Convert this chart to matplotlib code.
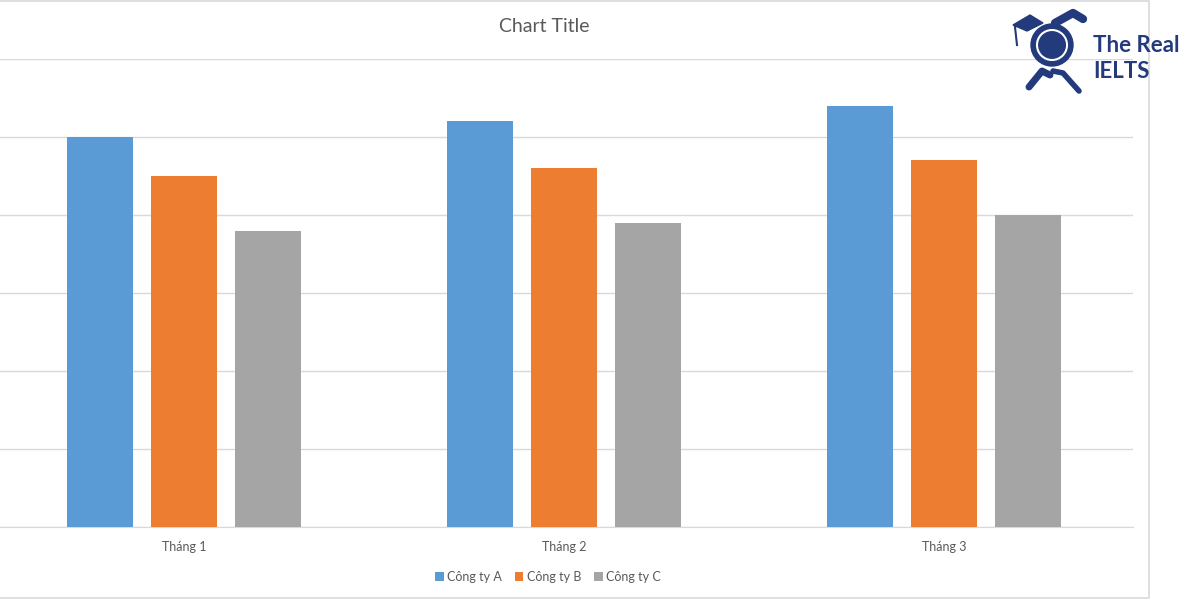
import numpy as np
import matplotlib.pyplot as plt
from matplotlib.patches import Rectangle, Circle

months = ["Tháng 1", "Tháng 2", "Tháng 3"]
cong_ty_a = [50, 52, 54]
cong_ty_b = [45, 46, 47]
cong_ty_c = [38, 39, 40]
series_names = ["Công ty A", "Công ty B", "Công ty C"]
colors = ["#5b9bd5", "#ed7d31", "#a5a5a5"]

plt.rcParams['font.family'] = ['Lato', 'DejaVu Sans']

fig = plt.figure(figsize=(12, 6), dpi=100)
W, H = 1200, 600

# chart frame
fig.patches.append(Rectangle((-2 / W, 1 - 598 / H), 1151 / W, 597 / H, transform=fig.transFigure,
                             fill=False, edgecolor="#d9d9d9", linewidth=1.2))

ax = fig.add_axes([0, 1 - 527 / H, 1133 / W, 468 / H])
x = np.arange(len(months))
width = 66 / 380
step = 84 / 380
for i, (vals, name, c) in enumerate(zip([cong_ty_a, cong_ty_b, cong_ty_c], series_names, colors)):
    ax.bar(x + (i - 1) * step, vals, width=width, color=c, label=name, zorder=3)

ax.set_xlim(-0.484, 2.497)
ax.set_ylim(0, 60)
ax.set_yticks(np.arange(0, 61, 10))
ax.yaxis.grid(True, color="#d9d9d9", linewidth=1, zorder=0)
ax.tick_params(axis="y", left=False, labelleft=False)
ax.tick_params(axis="x", length=0, labelsize=9, labelcolor="#595959", pad=10)
ax.set_xticks(x)
ax.set_xticklabels(months)
for s in ["top", "right", "left"]:
    ax.spines[s].set_visible(False)
ax.spines["bottom"].set_color("#d9d9d9")

fig.text(544 / W, 1 - 27 / H, "Chart Title", ha="center", va="center", fontsize=14, color="#595959")

leg = fig.legend(loc="center", bbox_to_anchor=(548 / W, 1 - 577 / H), ncol=3, frameon=False,
                 fontsize=9, handlelength=0.7, handleheight=0.7, handletextpad=0.3, columnspacing=1.0)
for t in leg.get_texts():
    t.set_color("#595959")

# logo
navy = "#233a7c"
fig.text(1093 / W, 1 - 45 / H, "The Real", ha="left", va="center", fontsize=16, color=navy, fontweight="bold")
fig.text(1093 / W, 1 - 71 / H, "IELTS", ha="left", va="center", fontsize=16, color=navy, fontweight="bold")
lax = fig.add_axes([1005 / W, 1 - 95 / H, 85 / W, 90 / H])
lax.set_xlim(0, 85)
lax.set_ylim(90, 0)
lax.set_aspect("equal")
lax.axis("off")
lax.add_patch(Circle((47, 40), 21, color=navy))
lax.add_patch(Circle((47, 40), 15, fill=False, edgecolor="white", linewidth=1.5))
lax.add_patch(Circle((48, 40), 12, color=navy))
lax.fill([8, 25, 38, 22], [20, 10, 18, 26], color=navy)
lax.plot([10, 12], [22, 40], color=navy, linewidth=1.5)
lax.plot([24, 37, 45], [82, 66, 70], color=navy, linewidth=5, solid_capstyle="round")
lax.plot([48, 58, 74], [66, 68, 86], color=navy, linewidth=4, solid_capstyle="round")
lax.plot([50, 68, 78], [18, 8, 14], color=navy, linewidth=6, solid_capstyle="round")

fig.savefig("out.png", dpi=100)
